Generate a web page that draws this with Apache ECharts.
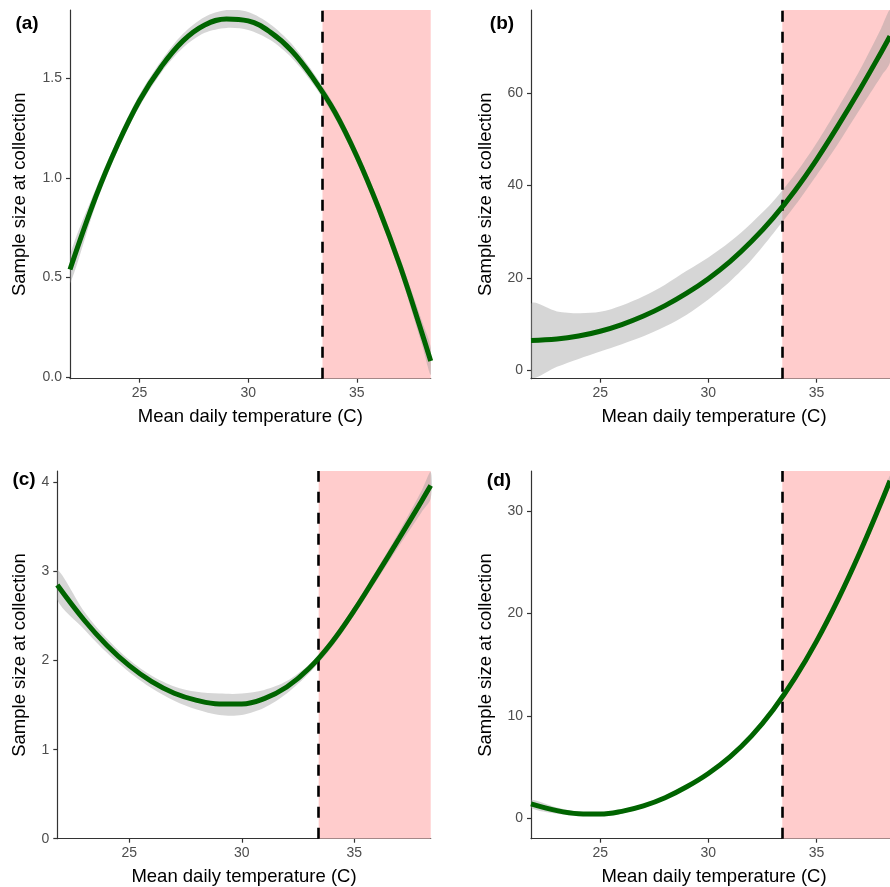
<!DOCTYPE html>
<html><head><meta charset="utf-8">
<script src="https://cdn.jsdelivr.net/npm/echarts@6/dist/echarts.min.js"></script>
<style>html,body{margin:0;padding:0;background:#fff}#c{width:890px;height:887px}</style>
</head><body><div id="c"></div>
<script>
// ---------------- data ----------------
const temperature = [21.8, 23, 24, 25, 26, 27, 28, 29, 30, 31, 32, 33, 34, 35, 36, 37, 38, 38.4];

const fitA   = [0.54, 0.91, 1.17, 1.39, 1.56, 1.69, 1.77, 1.80, 1.79, 1.735, 1.64, 1.50, 1.33, 1.11, 0.85, 0.555, 0.22, 0.08];
const upperA = [0.61, 0.95, 1.20, 1.42, 1.59, 1.725, 1.81, 1.845, 1.835, 1.775, 1.675, 1.53, 1.36, 1.14, 0.885, 0.595, 0.28, 0.15];
const lowerA = [0.47, 0.87, 1.14, 1.36, 1.53, 1.655, 1.73, 1.755, 1.745, 1.695, 1.605, 1.47, 1.30, 1.08, 0.815, 0.515, 0.16, 0.01];

const fitB   = [6.4, 6.7, 7.35, 8.4, 9.85, 11.7, 13.95, 16.65, 19.8, 23.5, 27.9, 33.0, 38.9, 45.6, 53.0, 60.8, 69.0, 72.4];
const upperB = [14.3, 12.7, 12.3, 12.6, 14.0, 16.0, 18.5, 21.5, 24.4, 27.8, 31.9, 36.6, 42.4, 49.2, 56.9, 65.0, 74.2, 78.0];
const lowerB = [-1.5, 0.7, 2.4, 4.0, 5.6, 7.3, 9.4, 12.0, 15.3, 19.2, 23.9, 29.6, 35.6, 42.2, 49.1, 56.5, 63.8, 66.8];

const fitC   = [2.85, 2.454, 2.174, 1.944, 1.764, 1.634, 1.554, 1.514, 1.514, 1.574, 1.704, 1.914, 2.204, 2.564, 2.964, 3.374, 3.794, 3.966];
const upperC = [3.02, 2.55, 2.25, 2.01, 1.83, 1.71, 1.65, 1.63, 1.63, 1.67, 1.77, 1.96, 2.25, 2.61, 3.02, 3.45, 3.91, 4.12];
const lowerC = [2.68, 2.35, 2.09, 1.87, 1.69, 1.55, 1.45, 1.39, 1.39, 1.47, 1.63, 1.86, 2.15, 2.51, 2.90, 3.29, 3.67, 3.82];

const fitD   = [1.40, 0.74, 0.44, 0.40, 0.67, 1.20, 2.00, 3.07, 4.37, 5.99, 8.04, 10.59, 13.67, 17.27, 21.37, 25.92, 30.87, 32.95];
const upperD = [1.80, 1.04, 0.64, 0.60, 0.87, 1.40, 2.20, 3.27, 4.57, 6.19, 8.24, 10.79, 13.92, 17.57, 21.72, 26.32, 31.32, 33.45];
const lowerD = [1.00, 0.44, 0.24, 0.20, 0.47, 1.00, 1.80, 2.87, 4.17, 5.79, 7.84, 10.39, 13.42, 16.97, 21.02, 25.52, 30.42, 32.45];

const thresholdTemp = 33.42;
const xRange = [21.8, 38.4];
const xTicks = [25, 30, 35];
const yTicksA = [0, 0.5, 1, 1.5];  const yRangeA = [-0.009, 1.845];
const yTicksB = [0, 20, 40, 60];   const yRangeB = [-1.9, 78.1];
const yTicksC = [0, 1, 2, 3, 4];   const yRangeC = [0, 4.13];
const yTicksD = [0, 10, 20, 30];   const yRangeD = [-2.0, 33.9];
const panelLabels = ['(a)', '(b)', '(c)', '(d)'];
const xTitle = 'Mean daily temperature (C)';
const yTitle = 'Sample size at collection';

// ---------------- layout / style ----------------
const FONT = '"Liberation Sans", Arial, Helvetica, sans-serif';
const panels = [
  {fit: fitA, lo: lowerA, hi: upperA, yTicks: yTicksA, yRange: yRangeA, dec: 1,
   grid: {left: 70, top: 10, width: 360.7, height: 368.7},
   label: [27, 24], yT: [19.5, 194.3], xT: [250.3, 417]},
  {fit: fitB, lo: lowerB, hi: upperB, yTicks: yTicksB, yRange: yRangeB, dec: 0,
   grid: {left: 531, top: 10, width: 366, height: 368.7},
   label: [502, 24], yT: [486, 194.3], xT: [714, 417]},
  {fit: fitC, lo: lowerC, hi: upperC, yTicks: yTicksC, yRange: yRangeC, dec: 0,
   grid: {left: 57.3, top: 471, width: 373.4, height: 367.7},
   label: [24, 480], yT: [19.5, 655], xT: [244, 877]},
  {fit: fitD, lo: lowerD, hi: upperD, yTicks: yTicksD, yRange: yRangeD, dec: 0,
   grid: {left: 531, top: 471, width: 366, height: 367.7},
   label: [499, 481], yT: [486, 655], xT: [714, 877]}
];

const grids = [], xAxes = [], yAxes = [], series = [], graphics = [];
const axisCommon = {
  axisLine: {show: true, onZero: false, lineStyle: {color: '#333', width: 1.2}},
  axisTick: {show: true, length: 4, lineStyle: {color: '#333', width: 1.2}},
  splitLine: {show: false}
};

panels.forEach((p, i) => {
  grids.push(Object.assign({containLabel: false}, p.grid));
  xAxes.push(Object.assign({}, axisCommon, {
    type: 'value', gridIndex: i, min: xRange[0], max: xRange[1],
    axisTick: Object.assign({}, axisCommon.axisTick, {customValues: xTicks}),
    axisLabel: {customValues: xTicks, color: '#4d4d4d', fontSize: 14, fontFamily: FONT, margin: 7}
  }));
  yAxes.push(Object.assign({}, axisCommon, {
    type: 'value', gridIndex: i, min: p.yRange[0], max: p.yRange[1],
    axisTick: Object.assign({}, axisCommon.axisTick, {customValues: p.yTicks}),
    axisLabel: {customValues: p.yTicks, color: '#4d4d4d', fontSize: 14, fontFamily: FONT, margin: 8,
      formatter: v => Number(v).toFixed(p.dec)}
  }));

  // heat region (pink) right of threshold
  series.push({
    type: 'custom', xAxisIndex: i, yAxisIndex: i, z: 1, silent: true, clip: true,
    data: [[thresholdTemp, p.yRange[0]]],
    renderItem: (params, api) => {
      const a = api.coord([thresholdTemp, p.yRange[1]]);
      const b = api.coord([xRange[1], p.yRange[0]]);
      return {type: 'rect', shape: {x: a[0], y: a[1], width: b[0] - a[0], height: b[1] - a[1]},
              style: {fill: '#FFCCCC'}};
    }
  });
  // confidence band
  series.push({
    type: 'custom', xAxisIndex: i, yAxisIndex: i, z: 2, silent: true, clip: true,
    data: [[temperature[0], p.lo[0]]],
    renderItem: (params, api) => {
      const pts = [];
      for (let k = 0; k < temperature.length; k++) pts.push(api.coord([temperature[k], p.hi[k]]));
      for (let k = temperature.length - 1; k >= 0; k--) pts.push(api.coord([temperature[k], p.lo[k]]));
      return {type: 'polygon', shape: {points: pts, smooth: 0.3},
              style: {fill: 'rgba(153,153,153,0.4)'}};
    }
  });
  // fitted curve + threshold line
  series.push({
    type: 'line', xAxisIndex: i, yAxisIndex: i, z: 4, silent: true,
    data: temperature.map((t, k) => [t, p.fit[k]]),
    smooth: 0.4, symbol: 'none',
    lineStyle: {color: '#006400', width: 5},
    markLine: {
      silent: true, symbol: ['none', 'none'], label: {show: false}, z: 3,
      lineStyle: {color: '#000', width: 2.6, type: [11, 10]},
      data: [{xAxis: thresholdTemp}]
    }
  });

  graphics.push({type: 'text', x: p.label[0], y: p.label[1], z: 10,
    style: {text: panelLabels[i], font: 'bold 19px ' + FONT, fill: '#000',
            align: 'center', verticalAlign: 'middle', textAlign: 'center', textVerticalAlign: 'middle'}});
  graphics.push({type: 'text', x: p.xT[0], y: p.xT[1], z: 10,
    style: {text: xTitle, font: '18.5px ' + FONT, fill: '#000',
            align: 'center', verticalAlign: 'middle', textAlign: 'center', textVerticalAlign: 'middle'}});
  graphics.push({type: 'text', x: p.yT[0], y: p.yT[1], rotation: Math.PI / 2, z: 10,
    style: {text: yTitle, font: '18.5px ' + FONT, fill: '#000',
            align: 'center', verticalAlign: 'middle', textAlign: 'center', textVerticalAlign: 'middle'}});
});

const chart = echarts.init(document.getElementById('c'), null, {renderer: 'canvas'});
chart.setOption({
  animation: false,
  backgroundColor: '#fff',
  grid: grids, xAxis: xAxes, yAxis: yAxes, series: series, graphic: graphics
});
</script></body></html>
